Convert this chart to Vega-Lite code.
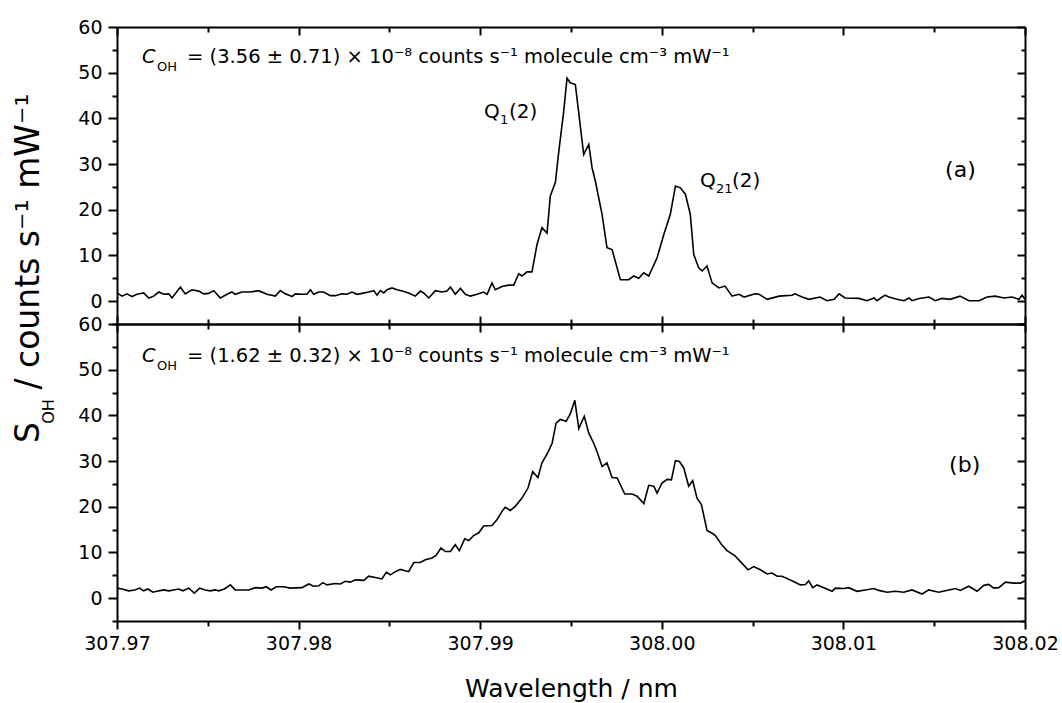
{
"$schema": "https://vega.github.io/schema/vega-lite/v6.json",
"padding": {"left": 12, "top": 18, "right": 5, "bottom": 5},
"config": {
  "font": "DejaVu Sans",
  "view": {"stroke": null},
  "axis": {"grid": false, "domainColor": "#000", "domainWidth": 2, "tickColor": "#000", "tickWidth": 2, "labelColor": "#000", "labelFont": "DejaVu Sans", "labelFontSize": 19, "titleColor": "#000", "titleFont": "DejaVu Sans", "titleFontWeight": "normal", "labelFlush": false, "labelOverlap": false},
  "text": {"font": "DejaVu Sans", "color": "#000"}
},
"datasets": {
"a": [{"w":307.97000,"s":1.8},{"w":307.97028,"s":1.1},{"w":307.97055,"s":1.6},{"w":307.97083,"s":1.0},{"w":307.97110,"s":1.5},{"w":307.97147,"s":1.8},{"w":307.97175,"s":0.7},{"w":307.97202,"s":1.1},{"w":307.97230,"s":2.0},{"w":307.97257,"s":1.5},{"w":307.97285,"s":1.6},{"w":307.97303,"s":0.7},{"w":307.97349,"s":3.1},{"w":307.97376,"s":1.6},{"w":307.97413,"s":2.5},{"w":307.97450,"s":2.2},{"w":307.97477,"s":1.6},{"w":307.97505,"s":1.7},{"w":307.97533,"s":2.3},{"w":307.97569,"s":0.7},{"w":307.97606,"s":1.5},{"w":307.97633,"s":2.0},{"w":307.97651,"s":1.5},{"w":307.97688,"s":2.0},{"w":307.97734,"s":2.0},{"w":307.97780,"s":2.3},{"w":307.97826,"s":1.5},{"w":307.97872,"s":1.1},{"w":307.97899,"s":2.3},{"w":307.97927,"s":1.6},{"w":307.97964,"s":1.0},{"w":307.97982,"s":1.6},{"w":307.98019,"s":1.5},{"w":307.98046,"s":1.5},{"w":307.98065,"s":2.5},{"w":307.98083,"s":1.5},{"w":307.98111,"s":2.0},{"w":307.98138,"s":2.0},{"w":307.98175,"s":1.2},{"w":307.98202,"s":1.2},{"w":307.98239,"s":1.6},{"w":307.98267,"s":1.5},{"w":307.98294,"s":2.0},{"w":307.98322,"s":1.5},{"w":307.98349,"s":1.7},{"w":307.98386,"s":2.0},{"w":307.98414,"s":2.3},{"w":307.98432,"s":1.3},{"w":307.98450,"s":2.3},{"w":307.98469,"s":1.8},{"w":307.98487,"s":2.5},{"w":307.98514,"s":2.9},{"w":307.98542,"s":2.5},{"w":307.98570,"s":2.2},{"w":307.98606,"s":1.8},{"w":307.98643,"s":1.1},{"w":307.98670,"s":2.2},{"w":307.98689,"s":1.8},{"w":307.98717,"s":0.7},{"w":307.98753,"s":2.3},{"w":307.98790,"s":2.0},{"w":307.98817,"s":2.2},{"w":307.98836,"s":3.1},{"w":307.98863,"s":1.5},{"w":307.98891,"s":2.8},{"w":307.98918,"s":1.5},{"w":307.98946,"s":1.1},{"w":307.98983,"s":1.5},{"w":307.99019,"s":2.0},{"w":307.99038,"s":1.5},{"w":307.99065,"s":4.0},{"w":307.99083,"s":2.5},{"w":307.99120,"s":3.2},{"w":307.99157,"s":3.5},{"w":307.99185,"s":3.5},{"w":307.99212,"s":6.0},{"w":307.99230,"s":5.5},{"w":307.99258,"s":6.4},{"w":307.99285,"s":6.4},{"w":307.99313,"s":12.4},{"w":307.99340,"s":16.1},{"w":307.99368,"s":14.9},{"w":307.99386,"s":23.0},{"w":307.99414,"s":26.0},{"w":307.99432,"s":32.5},{"w":307.99460,"s":41.6},{"w":307.99478,"s":48.8},{"w":307.99496,"s":47.8},{"w":307.99524,"s":47.4},{"w":307.99570,"s":32.1},{"w":307.99598,"s":34.3},{"w":307.99616,"s":29.2},{"w":307.99634,"s":26.3},{"w":307.99671,"s":19.0},{"w":307.99698,"s":11.7},{"w":307.99726,"s":11.3},{"w":307.99772,"s":4.7},{"w":307.99818,"s":4.7},{"w":307.99845,"s":5.5},{"w":307.99873,"s":5.0},{"w":307.99901,"s":6.2},{"w":307.99928,"s":5.5},{"w":307.99974,"s":9.5},{"w":308.00011,"s":14.6},{"w":308.00047,"s":19.0},{"w":308.00075,"s":25.2},{"w":308.00102,"s":24.8},{"w":308.00130,"s":23.4},{"w":308.00157,"s":19.0},{"w":308.00176,"s":10.2},{"w":308.00203,"s":7.3},{"w":308.00222,"s":6.6},{"w":308.00249,"s":7.7},{"w":308.00277,"s":4.0},{"w":308.00314,"s":2.9},{"w":308.00348,"s":3.3},{"w":308.00387,"s":1.1},{"w":308.00425,"s":1.5},{"w":308.00453,"s":0.9},{"w":308.00514,"s":1.6},{"w":308.00536,"s":1.5},{"w":308.00580,"s":0.4},{"w":308.00646,"s":1.1},{"w":308.00717,"s":1.3},{"w":308.00734,"s":1.6},{"w":308.00772,"s":0.9},{"w":308.00811,"s":0.4},{"w":308.00871,"s":0.9},{"w":308.00910,"s":0.1},{"w":308.00949,"s":0.4},{"w":308.00976,"s":1.6},{"w":308.01009,"s":0.7},{"w":308.01086,"s":0.6},{"w":308.01130,"s":0.1},{"w":308.01169,"s":0.7},{"w":308.01185,"s":0.1},{"w":308.01229,"s":1.3},{"w":308.01251,"s":0.9},{"w":308.01295,"s":0.4},{"w":308.01334,"s":0.1},{"w":308.01362,"s":0.7},{"w":308.01378,"s":0.1},{"w":308.01417,"s":0.6},{"w":308.01472,"s":0.9},{"w":308.01505,"s":0.1},{"w":308.01543,"s":0.6},{"w":308.01587,"s":0.4},{"w":308.01642,"s":1.1},{"w":308.01692,"s":0.1},{"w":308.01747,"s":0.1},{"w":308.01791,"s":0.9},{"w":308.01835,"s":1.1},{"w":308.01885,"s":0.7},{"w":308.01929,"s":0.9},{"w":308.01967,"s":0.4},{"w":308.01984,"s":1.3},{"w":308.02000,"s":0.4}],
"b": [{"w":307.97000,"s":2.2},{"w":307.97028,"s":2.0},{"w":307.97064,"s":1.6},{"w":307.97099,"s":1.8},{"w":307.97125,"s":2.2},{"w":307.97147,"s":1.6},{"w":307.97169,"s":2.0},{"w":307.97198,"s":1.3},{"w":307.97230,"s":1.6},{"w":307.97257,"s":1.8},{"w":307.97285,"s":1.6},{"w":307.97312,"s":1.8},{"w":307.97340,"s":2.0},{"w":307.97363,"s":1.6},{"w":307.97395,"s":2.2},{"w":307.97426,"s":1.1},{"w":307.97455,"s":2.2},{"w":307.97486,"s":1.8},{"w":307.97514,"s":1.6},{"w":307.97541,"s":1.8},{"w":307.97560,"s":1.6},{"w":307.97591,"s":2.0},{"w":307.97624,"s":2.9},{"w":307.97651,"s":1.8},{"w":307.97688,"s":1.8},{"w":307.97725,"s":1.8},{"w":307.97762,"s":2.3},{"w":307.97799,"s":2.2},{"w":307.97822,"s":2.5},{"w":307.97848,"s":1.8},{"w":307.97877,"s":2.5},{"w":307.97918,"s":2.5},{"w":307.97954,"s":2.2},{"w":307.98019,"s":2.3},{"w":307.98056,"s":3.1},{"w":307.98083,"s":2.6},{"w":307.98111,"s":2.7},{"w":307.98134,"s":3.4},{"w":307.98156,"s":2.9},{"w":307.98202,"s":3.2},{"w":307.98230,"s":3.1},{"w":307.98257,"s":3.7},{"w":307.98285,"s":3.5},{"w":307.98312,"s":4.0},{"w":307.98359,"s":3.9},{"w":307.98386,"s":4.8},{"w":307.98422,"s":4.5},{"w":307.98459,"s":4.2},{"w":307.98483,"s":5.7},{"w":307.98505,"s":5.1},{"w":307.98533,"s":5.8},{"w":307.98560,"s":6.3},{"w":307.98606,"s":5.8},{"w":307.98634,"s":7.8},{"w":307.98670,"s":7.8},{"w":307.98698,"s":8.4},{"w":307.98735,"s":8.8},{"w":307.98758,"s":9.4},{"w":307.98784,"s":11.0},{"w":307.98808,"s":10.2},{"w":307.98836,"s":10.2},{"w":307.98863,"s":11.7},{"w":307.98885,"s":10.4},{"w":307.98915,"s":13.0},{"w":307.98937,"s":12.6},{"w":307.98964,"s":13.7},{"w":307.98992,"s":14.3},{"w":307.99019,"s":15.8},{"w":307.99065,"s":15.9},{"w":307.99093,"s":17.2},{"w":307.99120,"s":19.0},{"w":307.99138,"s":19.9},{"w":307.99166,"s":19.2},{"w":307.99193,"s":20.1},{"w":307.99230,"s":21.9},{"w":307.99263,"s":24.1},{"w":307.99289,"s":27.7},{"w":307.99318,"s":26.4},{"w":307.99340,"s":29.6},{"w":307.99368,"s":31.5},{"w":307.99396,"s":33.9},{"w":307.99418,"s":38.3},{"w":307.99441,"s":39.1},{"w":307.99473,"s":38.7},{"w":307.99496,"s":40.3},{"w":307.99521,"s":43.3},{"w":307.99543,"s":37.1},{"w":307.99573,"s":39.8},{"w":307.99598,"s":36.1},{"w":307.99625,"s":33.9},{"w":307.99643,"s":32.1},{"w":307.99671,"s":28.8},{"w":307.99698,"s":29.6},{"w":307.99726,"s":26.4},{"w":307.99754,"s":26.3},{"w":307.99796,"s":22.8},{"w":307.99836,"s":22.8},{"w":307.99864,"s":22.3},{"w":307.99901,"s":20.7},{"w":307.99928,"s":24.7},{"w":307.99956,"s":24.5},{"w":307.99974,"s":23.0},{"w":308.00001,"s":25.2},{"w":308.00029,"s":26.0},{"w":308.00053,"s":25.9},{"w":308.00075,"s":30.1},{"w":308.00097,"s":29.9},{"w":308.00121,"s":28.5},{"w":308.00148,"s":24.5},{"w":308.00170,"s":25.7},{"w":308.00194,"s":21.9},{"w":308.00218,"s":20.5},{"w":308.00249,"s":14.8},{"w":308.00277,"s":14.2},{"w":308.00295,"s":13.7},{"w":308.00328,"s":11.8},{"w":308.00359,"s":10.4},{"w":308.00402,"s":9.3},{"w":308.00433,"s":8.0},{"w":308.00475,"s":6.2},{"w":308.00506,"s":6.9},{"w":308.00543,"s":6.2},{"w":308.00580,"s":5.3},{"w":308.00607,"s":5.5},{"w":308.00635,"s":4.8},{"w":308.00662,"s":4.8},{"w":308.00717,"s":3.8},{"w":308.00763,"s":2.9},{"w":308.00791,"s":3.0},{"w":308.00809,"s":3.8},{"w":308.00831,"s":2.3},{"w":308.00855,"s":2.9},{"w":308.00892,"s":2.3},{"w":308.00938,"s":1.5},{"w":308.00956,"s":2.2},{"w":308.01002,"s":2.1},{"w":308.01029,"s":2.3},{"w":308.01075,"s":1.5},{"w":308.01121,"s":1.8},{"w":308.01167,"s":2.1},{"w":308.01195,"s":1.7},{"w":308.01240,"s":1.3},{"w":308.01286,"s":1.5},{"w":308.01332,"s":1.3},{"w":308.01378,"s":1.8},{"w":308.01433,"s":0.9},{"w":308.01470,"s":1.8},{"w":308.01525,"s":1.3},{"w":308.01580,"s":1.8},{"w":308.01617,"s":2.1},{"w":308.01644,"s":1.7},{"w":308.01690,"s":2.6},{"w":308.01736,"s":1.5},{"w":308.01773,"s":2.8},{"w":308.01800,"s":3.0},{"w":308.01828,"s":2.2},{"w":308.01856,"s":2.3},{"w":308.01892,"s":3.5},{"w":308.01938,"s":3.3},{"w":308.01975,"s":3.3},{"w":308.02000,"s":3.8}]
},
"spacing": 0,
"bounds": "flush",
"vconcat": [
{
  "width": 908, "height": 297,
  "data": {"name": "a"},
  "resolve": {"axis": {"x": "independent", "y": "independent"}},
  "layer": [
    {"mark": {"type": "line", "color": "#000", "strokeWidth": 1.6},
     "encoding": {
       "x": {"field": "w", "type": "quantitative", "scale": {"domain": [307.97, 308.02], "nice": false, "zero": false},
             "axis": {"orient": "bottom", "values": [307.97, 307.98, 307.99, 308.0, 308.01, 308.02], "labels": false, "tickSize": -8, "title": null}},
       "y": {"field": "s", "type": "quantitative", "scale": {"domain": [-5, 60], "nice": false, "zero": false},
             "axis": {"orient": "left", "values": [0, 10, 20, 30, 40, 50, 60], "tickSize": 9, "labelPadding": 6, "title": "/ counts s⁻¹ mW⁻¹", "titleFontSize": 33, "titleX": -79, "titleY": 214, "titleAngle": 270, "titleAlign": "center", "titleBaseline": "alphabetic"}}
     }},
    {"mark": {"type": "line", "strokeOpacity": 0},
     "encoding": {
       "x": {"field": "w", "type": "quantitative", "axis": {"orient": "bottom", "values": [307.975, 307.985, 307.995, 308.005, 308.015], "labels": false, "domain": false, "tickSize": -5, "title": null}},
       "y": {"field": "s", "type": "quantitative", "axis": {"orient": "left", "values": [-5, 5, 15, 25, 35, 45, 55], "labels": false, "domain": false, "tickSize": 5, "title": "S", "titleFontSize": 33, "titleX": -79, "titleY": 405, "titleAngle": 270, "titleAlign": "center", "titleBaseline": "alphabetic"}}
     }},
    {"mark": {"type": "line", "strokeOpacity": 0},
     "encoding": {
       "x": {"field": "w", "type": "quantitative", "axis": {"orient": "top", "values": [307.97, 307.98, 307.99, 308.0, 308.01, 308.02], "labels": false, "tickSize": -8, "title": null}},
       "y": {"field": "s", "type": "quantitative", "axis": {"orient": "right", "values": [0, 10, 20, 30, 40, 50, 60], "labels": false, "tickSize": -8, "title": null}}
     }},
    {"mark": {"type": "line", "strokeOpacity": 0},
     "encoding": {
       "x": {"field": "w", "type": "quantitative", "axis": {"orient": "top", "values": [307.975, 307.985, 307.995, 308.005, 308.015], "labels": false, "domain": false, "tickSize": -5, "title": null}},
       "y": {"field": "s", "type": "quantitative", "axis": {"orient": "right", "values": [-5, 5, 15, 25, 35, 45, 55], "labels": false, "domain": false, "tickSize": -4, "title": null}}
     }},
    {"data": {"values": [{"w": 307.97138, "s": 52.1, "t": "C"}]},
     "mark": {"type": "text", "align": "left", "baseline": "alphabetic", "fontSize": 19.5, "fontStyle": "italic"},
     "encoding": {"x": {"field": "w", "type": "quantitative", "axis": null}, "y": {"field": "s", "type": "quantitative", "axis": null}, "text": {"field": "t"}}},
    {"data": {"values": [{"w": 307.97138, "s": 52.1, "t": "OH"}]},
     "mark": {"type": "text", "align": "left", "baseline": "alphabetic", "fontSize": 13, "dx": 15, "dy": 8},
     "encoding": {"x": {"field": "w", "type": "quantitative", "axis": null}, "y": {"field": "s", "type": "quantitative", "axis": null}, "text": {"field": "t"}}},
    {"data": {"values": [{"w": 307.97138, "s": 52.1, "t": "= (3.56 ± 0.71) × 10⁻⁸ counts s⁻¹ molecule cm⁻³ mW⁻¹"}]},
     "mark": {"type": "text", "align": "left", "baseline": "alphabetic", "fontSize": 19.5, "dx": 45},
     "encoding": {"x": {"field": "w", "type": "quantitative", "axis": null}, "y": {"field": "s", "type": "quantitative", "axis": null}, "text": {"field": "t"}}},
    {"data": {"values": [{"w": 307.99021, "s": 40.1, "t": "Q"}, {"w": 308.0021, "s": 25.0, "t": "Q"}]},
     "mark": {"type": "text", "align": "left", "baseline": "alphabetic", "fontSize": 20},
     "encoding": {"x": {"field": "w", "type": "quantitative", "axis": null}, "y": {"field": "s", "type": "quantitative", "axis": null}, "text": {"field": "t"}}},
    {"data": {"values": [{"w": 307.99021, "s": 40.1, "t": "1"}, {"w": 308.0021, "s": 25.0, "t": "21"}]},
     "mark": {"type": "text", "align": "left", "baseline": "alphabetic", "fontSize": 13, "dx": 16, "dy": 6},
     "encoding": {"x": {"field": "w", "type": "quantitative", "axis": null}, "y": {"field": "s", "type": "quantitative", "axis": null}, "text": {"field": "t"}}},
    {"data": {"values": [{"w": 307.99021, "s": 40.1, "t": "(2)"}]},
     "mark": {"type": "text", "align": "left", "baseline": "alphabetic", "fontSize": 20, "dx": 25},
     "encoding": {"x": {"field": "w", "type": "quantitative", "axis": null}, "y": {"field": "s", "type": "quantitative", "axis": null}, "text": {"field": "t"}}},
    {"data": {"values": [{"w": 308.0021, "s": 25.0, "t": "(2)"}]},
     "mark": {"type": "text", "align": "left", "baseline": "alphabetic", "fontSize": 20, "dx": 32},
     "encoding": {"x": {"field": "w", "type": "quantitative", "axis": null}, "y": {"field": "s", "type": "quantitative", "axis": null}, "text": {"field": "t"}}},
    {"data": {"values": [{"w": 308.0156, "s": 27.2, "t": "(a)"}]},
     "mark": {"type": "text", "align": "left", "baseline": "alphabetic", "fontSize": 22},
     "encoding": {"x": {"field": "w", "type": "quantitative", "axis": null}, "y": {"field": "s", "type": "quantitative", "axis": null}, "text": {"field": "t"}}}
  ]
},
{
  "width": 908, "height": 297,
  "data": {"name": "b"},
  "resolve": {"axis": {"x": "independent", "y": "independent"}},
  "layer": [
    {"mark": {"type": "line", "color": "#000", "strokeWidth": 1.6},
     "encoding": {
       "x": {"field": "w", "type": "quantitative", "scale": {"domain": [307.97, 308.02], "nice": false, "zero": false},
             "axis": {"orient": "bottom", "values": [307.97, 307.98, 307.99, 308.0, 308.01, 308.02], "format": ".2f", "tickSize": 8, "labelPadding": 5, "title": "Wavelength / nm", "titleFontSize": 25, "titleY": 75, "titleBaseline": "alphabetic"}},
       "y": {"field": "s", "type": "quantitative", "scale": {"domain": [-5, 60], "nice": false, "zero": false},
             "axis": {"orient": "left", "values": [0, 10, 20, 30, 40, 50, 60], "tickSize": 9, "labelPadding": 6, "title": null}}
     }},
    {"mark": {"type": "line", "strokeOpacity": 0},
     "encoding": {
       "x": {"field": "w", "type": "quantitative", "axis": {"orient": "bottom", "values": [307.975, 307.985, 307.995, 308.005, 308.015], "labels": false, "domain": false, "tickSize": 5, "title": null}},
       "y": {"field": "s", "type": "quantitative", "axis": {"orient": "left", "values": [-5, 5, 15, 25, 35, 45, 55], "labels": false, "domain": false, "tickSize": 5, "title": "OH", "titleFontSize": 16, "titleX": -64, "titleY": 87, "titleAngle": 270, "titleAlign": "center", "titleBaseline": "alphabetic"}}
     }},
    {"mark": {"type": "line", "strokeOpacity": 0},
     "encoding": {
       "x": {"field": "w", "type": "quantitative", "axis": {"orient": "top", "values": [307.97, 307.98, 307.99, 308.0, 308.01, 308.02], "labels": false, "tickSize": -8, "title": null}},
       "y": {"field": "s", "type": "quantitative", "axis": {"orient": "right", "values": [0, 10, 20, 30, 40, 50, 60], "labels": false, "tickSize": -8, "title": null}}
     }},
    {"mark": {"type": "line", "strokeOpacity": 0},
     "encoding": {
       "x": {"field": "w", "type": "quantitative", "axis": {"orient": "top", "values": [307.975, 307.985, 307.995, 308.005, 308.015], "labels": false, "domain": false, "tickSize": -5, "title": null}},
       "y": {"field": "s", "type": "quantitative", "axis": {"orient": "right", "values": [-5, 5, 15, 25, 35, 45, 55], "labels": false, "domain": false, "tickSize": -4, "title": null}}
     }},
    {"data": {"values": [{"w": 307.97138, "s": 51.7, "t": "C"}]},
     "mark": {"type": "text", "align": "left", "baseline": "alphabetic", "fontSize": 19.5, "fontStyle": "italic"},
     "encoding": {"x": {"field": "w", "type": "quantitative", "axis": null}, "y": {"field": "s", "type": "quantitative", "axis": null}, "text": {"field": "t"}}},
    {"data": {"values": [{"w": 307.97138, "s": 51.7, "t": "OH"}]},
     "mark": {"type": "text", "align": "left", "baseline": "alphabetic", "fontSize": 13, "dx": 15, "dy": 8},
     "encoding": {"x": {"field": "w", "type": "quantitative", "axis": null}, "y": {"field": "s", "type": "quantitative", "axis": null}, "text": {"field": "t"}}},
    {"data": {"values": [{"w": 307.97138, "s": 51.7, "t": "= (1.62 ± 0.32) × 10⁻⁸ counts s⁻¹ molecule cm⁻³ mW⁻¹"}]},
     "mark": {"type": "text", "align": "left", "baseline": "alphabetic", "fontSize": 19.5, "dx": 45},
     "encoding": {"x": {"field": "w", "type": "quantitative", "axis": null}, "y": {"field": "s", "type": "quantitative", "axis": null}, "text": {"field": "t"}}},
    {"data": {"values": [{"w": 308.01582, "s": 27.6, "t": "(b)"}]},
     "mark": {"type": "text", "align": "left", "baseline": "alphabetic", "fontSize": 22},
     "encoding": {"x": {"field": "w", "type": "quantitative", "axis": null}, "y": {"field": "s", "type": "quantitative", "axis": null}, "text": {"field": "t"}}}
  ]
}
]
}
